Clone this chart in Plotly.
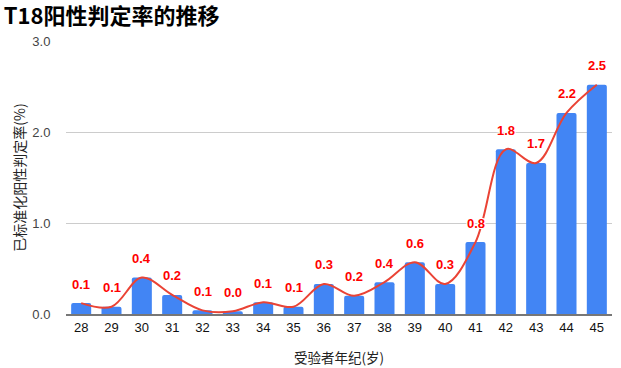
import plotly.graph_objects as go

ages = [28, 29, 30, 31, 32, 33, 34, 35, 36, 37, 38, 39, 40, 41, 42, 43, 44, 45]
rates = [0.12, 0.08, 0.40, 0.21, 0.04, 0.03, 0.13, 0.08, 0.33, 0.20, 0.35, 0.57, 0.33, 0.79, 1.81, 1.66, 2.21, 2.52]
labels = ["0.1", "0.1", "0.4", "0.2", "0.1", "0.0", "0.1", "0.1", "0.3", "0.2", "0.4", "0.6", "0.3", "0.8", "1.8", "1.7", "2.2", "2.5"]
tick_text = [str(a) for a in ages]

CJK = "Noto Sans CJK SC, Noto Sans, sans-serif"
NUM = "Liberation Sans, Arial, sans-serif"
HALO = "-1px -1px 0 #fff, 1px -1px 0 #fff, -1px 1px 0 #fff, 1px 1px 0 #fff"

fig = go.Figure()
fig.add_trace(go.Bar(
    x=ages, y=rates,
    marker=dict(color="#4285F4", cornerradius=2, line=dict(width=0)),
    hoverinfo="skip",
))
fig.add_trace(go.Scatter(
    x=ages, y=rates, mode="lines",
    line=dict(color="#EA4335", width=2, shape="spline", smoothing=1.0),
    hoverinfo="skip",
))

annotations = []
for xa, v, t in zip(ages, rates, labels):
    annotations.append(dict(
        x=xa, y=v, xref="x", yref="y", text="<b>%s</b>" % t,
        showarrow=False, yshift=19,
        font=dict(family=NUM, size=13, color="#FF0000", shadow=HALO),
    ))

fig.update_layout(
    width=621, height=368,
    margin=dict(l=66, r=9, t=41, b=54),
    paper_bgcolor="white", plot_bgcolor="white",
    showlegend=False,
    bargap=0.34,
    font=dict(family=CJK, size=12, color="#444"),
    title=dict(
        text="<b>T18阳性判定率的推移</b>",
        x=0.006, xanchor="left", y=0.955, yanchor="middle",
        font=dict(family=CJK, size=22, color="#000"),
    ),
    annotations=annotations,
    xaxis=dict(
        range=[27.5, 45.5], automargin=False,
        tickmode="array", tickvals=ages, ticktext=tick_text,
        showgrid=False, zeroline=False,
        showline=True, linecolor="#777", linewidth=2,
        ticks="", tickfont=dict(family=NUM, size=13, color="#111"),
        title=dict(text="受验者年纪(岁)", font=dict(family=CJK, size=13.5, color="#222"), standoff=20),
    ),
    yaxis=dict(
        range=[0, 3], dtick=1, tickformat=".1f", automargin=False,
        showgrid=True, gridcolor="#ccc", gridwidth=1,
        zeroline=False, showline=False,
        ticks="outside", ticklen=12, tickcolor="rgba(0,0,0,0)",
        tickfont=dict(family=NUM, size=13, color="#444"),
        title=dict(text="已标准化阳性判定率(%)", font=dict(family=CJK, size=14, color="#222"), standoff=3),
    ),
)

fig.write_html("out.html", config={"displayModeBar": False},
               post_script="document.body.style.margin='0';")
